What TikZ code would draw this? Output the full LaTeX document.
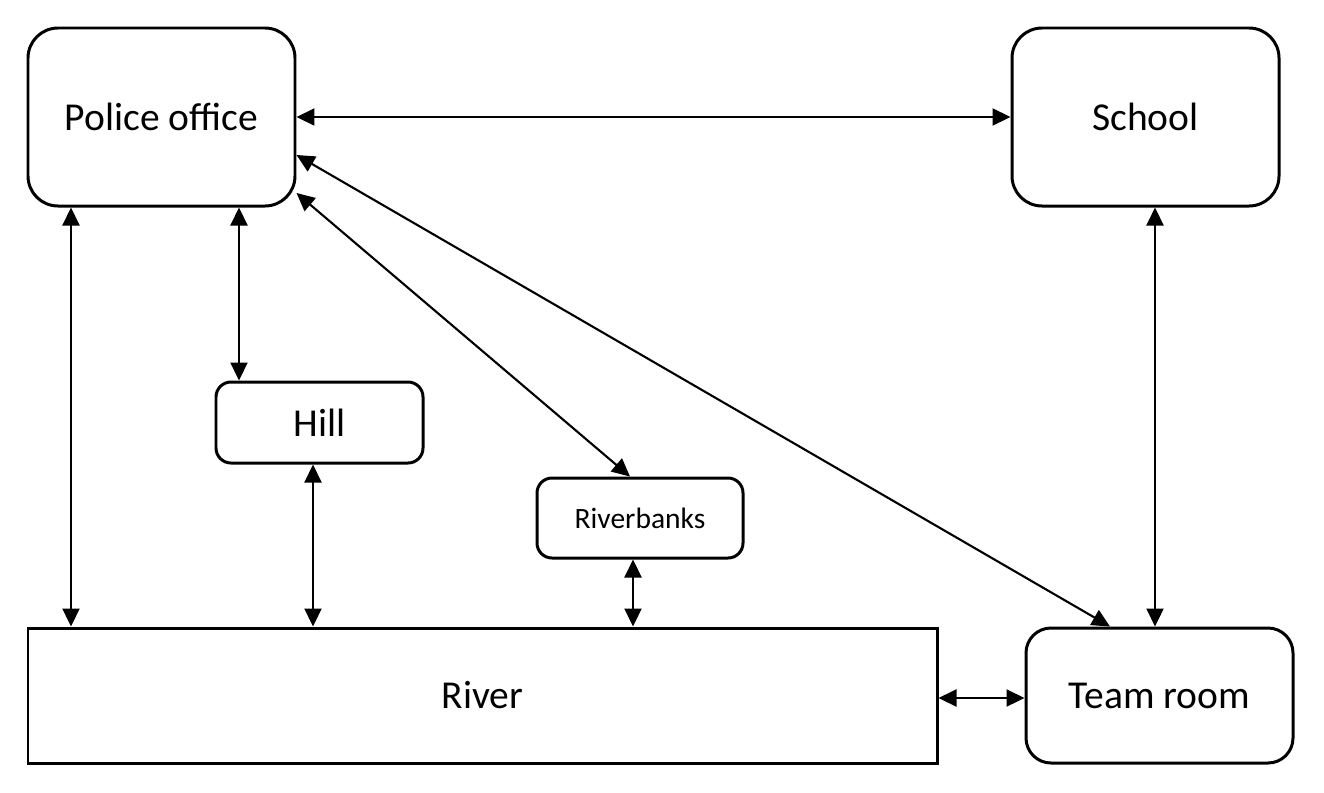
\documentclass[tikz,border=0pt]{standalone}
\usepackage{fontspec}
\setmainfont{Carlito}
\usetikzlibrary{arrows.meta,calc}
\definecolor{MapInk}{RGB}{0,0,0}
\tikzset{
  map box/.style={
    draw=MapInk,
    line width=1.7pt,
    align=center,
    inner sep=0pt,
    font=\fontsize{22.5}{27}\selectfont
  },
  map place/.style={map box, rounded corners=0.6cm, minimum width=5.34cm, minimum height=3.56cm},
  map spot/.style={map box, rounded corners=0.3cm, minimum width=4.14cm, minimum height=1.62cm},
  map small/.style={map spot, minimum width=4.12cm, minimum height=1.6cm, font=\fontsize{16.8}{20}\selectfont},
  map river/.style={map box, minimum width=18.18cm, minimum height=2.7cm},
  map room/.style={map box, rounded corners=0.5cm, minimum width=5.34cm, minimum height=2.7cm},
  map link/.style={{Triangle[length=0.36cm,width=0.34cm]}-{Triangle[length=0.36cm,width=0.34cm]}, line width=1.2pt, MapInk}
}
\begin{document}
\begin{tikzpicture}
\useasboundingbox (0,0) rectangle (26.48,-15.84);
\node[map place] (police) at (3.23,-2.34) {Police office};
\node[map place] (school) at (22.91,-2.34) {School};
\node[map spot] (hill) at (6.39,-8.45) {Hill};
\node[map small] (banks) at (12.8,-10.36) {Riverbanks};
\node[map river] (river) at (9.65,-13.91) {River};
\node[map room] (team) at (23.19,-13.91) {Team room};
% links between the places
\draw[map link] (police.east) -- (school.west);
\draw[map link] ([xshift=-1.81cm]police.south) -- ([xshift=-1.81cm]police.south |- river.north);
\draw[map link] ([xshift=1.55cm]police.south) -- ([xshift=1.55cm]police.south |- hill.north);
\draw[map link] ([xshift=-0.13cm]hill.south) -- ([xshift=-0.13cm]hill.south |- river.north);
\draw[map link] ([xshift=-0.14cm]banks.south) -- ([xshift=-0.14cm]banks.south |- river.north);
\draw[map link] ([xshift=0.19cm]school.south) -- ([xshift=0.19cm]school.south |- team.north);
\draw[map link] ([yshift=-0.05cm]river.east |- team.west) -- ([yshift=-0.05cm]team.west);
\draw[map link] ([yshift=-0.76cm]police.east) -- ([xshift=-0.99cm]team.north);
\draw[map link] ([yshift=-1.52cm]police.east) -- ([xshift=-0.2cm]banks.north);
\end{tikzpicture}
\end{document}
